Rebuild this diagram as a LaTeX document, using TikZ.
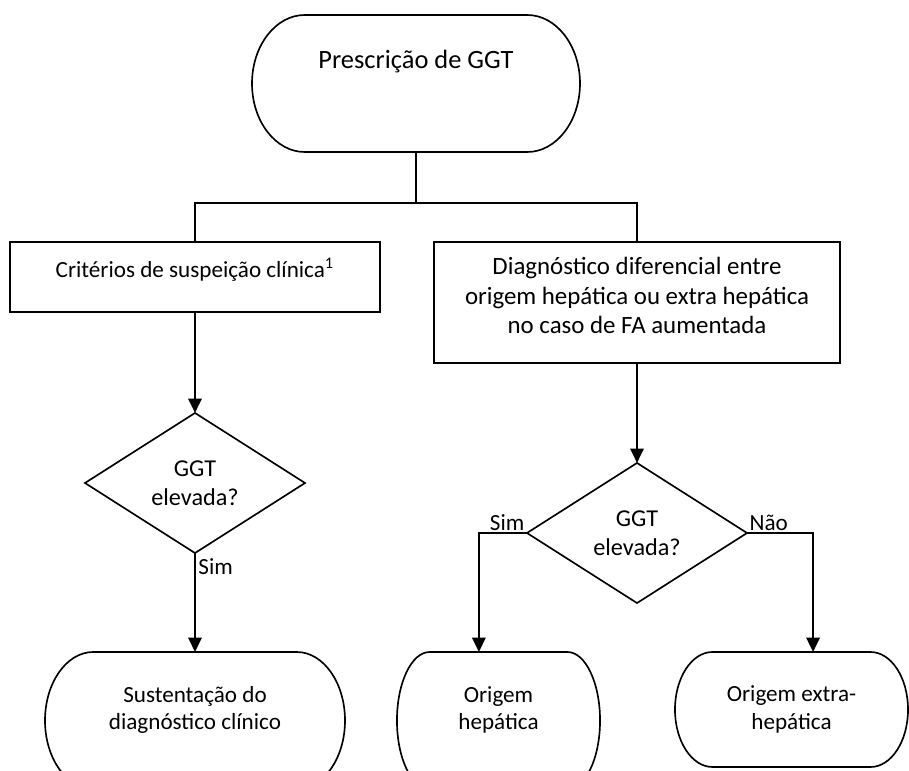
\documentclass[tikz,border=0pt]{standalone}
\usepackage{fontspec}
\setmainfont{Carlito}
\usetikzlibrary{shapes.geometric,arrows.meta,calc}

\begin{document}
\begin{tikzpicture}[x=0.454pt, y=-0.454pt,
    txt/.style={font=\fontsize{10.5}{13.4}\selectfont, align=center},
    termtxt/.style={font=\fontsize{10.5}{12.6}\selectfont, align=center},
    outline/.style={line width=0.75pt},
    conn/.style={line width=1.1pt},
    arr/.style={conn, -{Triangle[length=6.5pt,width=6pt]}},
    box/.style={rectangle, draw, outline, inner sep=0pt, outer sep=0pt},
    decision/.style={diamond, draw, outline, inner sep=0pt, outer sep=0pt,
        minimum width=99.9pt, minimum height=63.6pt, txt, font=\fontsize{11}{13.2}\selectfont},
    term/.style={rectangle, inner sep=0pt, outer sep=0pt},
    answer/.style={txt, inner sep=1pt}]

    \clip (0,0) rectangle (909,771);
    \fill [white] (0,0) rectangle (909,771);

    \node [term, minimum width=148.9pt, minimum height=62.2pt,
        label={[txt,font=\fontsize{12}{14}\selectfont,yshift=9.9pt]center:Prescrição de GGT}] (prescricao) at (416,83.5) {};
    \node [box, minimum width=168pt, minimum height=31.8pt,
        label={[txt,yshift=3.4pt]center:Critérios de suspeição clínica\textsuperscript{1}}] (criterios) at (195,277) {};
    \node [box, minimum width=184.3pt, minimum height=54.9pt,
        label={[txt,font=\fontsize{11.3}{13.4}\selectfont,yshift=3pt]center:Diagnóstico diferencial entre\\origem hepática ou extra hepática\\no caso de FA aumentada}] (diferencial) at (637,302.5) {};
    \node [decision] (ggtclinica) at (195,483) {GGT\\elevada?};
    \node [decision] (ggtfa) at (637,533) {GGT\\elevada?};
    \node [term, minimum width=136.2pt, minimum height=62.2pt,
        label={[termtxt,yshift=4.8pt]center:Sustentação do\\diagnóstico clínico}] (sustentacao) at (195,720.5) {};
    \node [term, minimum width=92.2pt, minimum height=62.2pt,
        label={[termtxt,yshift=4.8pt]center:Origem\\hepática}] (hepatica) at (498.5,720.5) {};
    \node [term, minimum width=105.8pt, minimum height=52.2pt,
        label={[termtxt]center:Origem extra-\\hepática}] (extra) at (791.5,709.5) {};

    % terminator outlines
    \foreach \t in {prescricao,sustentacao,hepatica,extra}
        \draw [outline] let \p1=(\t.north west), \p2=(\t.south east),
            \n1={0.161*(\x2-\x1)}, \n2={(\y1-\y2)/2} in
            ([xshift=\n1]\t.north west) -- ([xshift=-\n1]\t.north east)
            arc [start angle=90, end angle=-90, x radius=\n1, y radius=\n2]
            -- ([xshift=\n1]\t.south west)
            arc [start angle=270, end angle=90, x radius=\n1, y radius=\n2] -- cycle;

    \coordinate (split) at (416,203);
    \draw [conn] (prescricao) -- (split);
    \draw [conn] (criterios.north) |- (split) -| (diferencial.north);
    \draw [arr] (criterios) -- (ggtclinica);
    \draw [arr] (diferencial) -- (ggtfa);
    \draw [arr] (ggtclinica) -- node [answer, anchor=north west, pos=0.02] {Sim} (sustentacao);
    \draw [arr] (ggtfa.west) -| ([xshift=-8.9pt]hepatica.north);
    \draw [arr] (ggtfa.east) -| ([xshift=9.8pt]extra.north);
    \node [answer, anchor=south east] (sim) at (ggtfa.west) {Sim};
    \node [answer, anchor=south west] (nao) at (ggtfa.east) {Não};

\end{tikzpicture}
\end{document}
